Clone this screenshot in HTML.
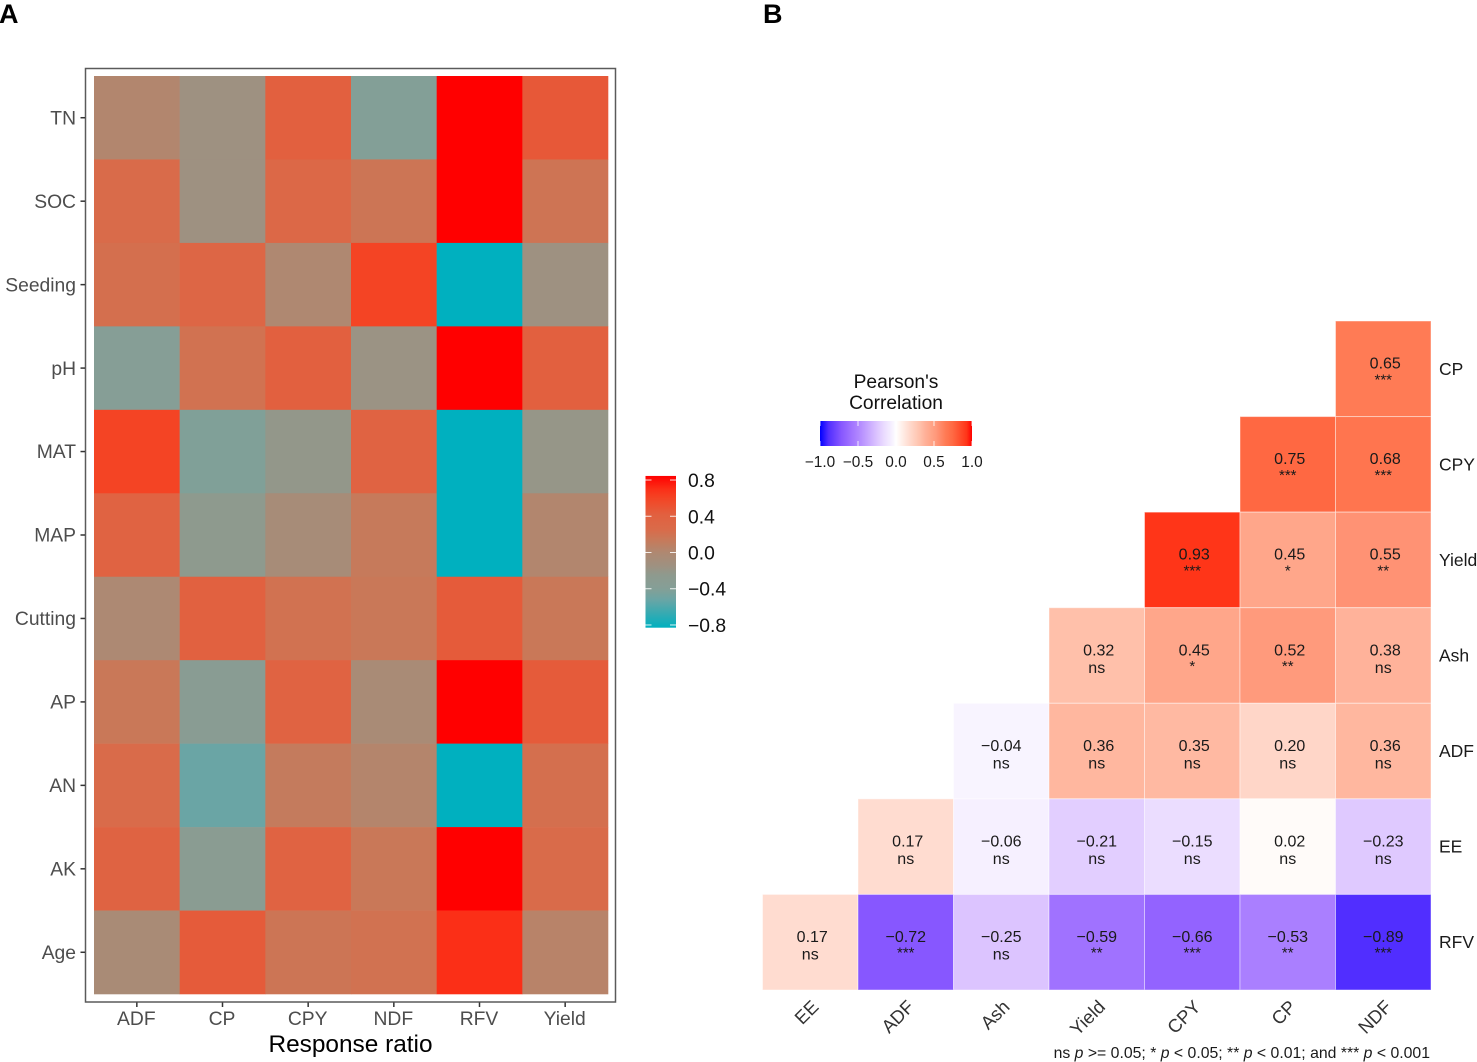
<!DOCTYPE html>
<html lang="en">
<head>
<meta charset="utf-8">
<title>Response ratio heatmap and Pearson correlation matrix</title>
<style>
  html, body { margin: 0; padding: 0; background: #fff; }
  svg { display: block; font-family: "Liberation Sans", sans-serif; }
</style>
</head>
<body>
<svg id="figure" xmlns="http://www.w3.org/2000/svg" width="1477" height="1062" viewBox="0 0 1477 1062">
  <defs id="grads"></defs>
  <rect x="0" y="0" width="1477" height="1062" fill="#ffffff"/>
  <text x="-1" y="23" font-size="27" font-weight="bold" fill="#000">A</text>
  <text x="763" y="23" font-size="27" font-weight="bold" fill="#000">B</text>
  <g id="panelA"></g>
  <g id="panelB"></g>
  <text x="1430" y="1058" text-anchor="end" font-size="15.8" fill="#1a1a1a">ns <tspan font-style="italic">p</tspan> &gt;= 0.05; * <tspan font-style="italic">p</tspan> &lt; 0.05; ** <tspan font-style="italic">p</tspan> &lt; 0.01; and *** <tspan font-style="italic">p</tspan> &lt; 0.001</text>
</svg>
<script>
// ---- Panel A data ----
const ratioCols = ["ADF", "CP", "CPY", "NDF", "RFV", "Yield"];
const ratioRows = ["TN", "SOC", "Seeding", "pH", "MAT", "MAP", "Cutting", "AP", "AN", "AK", "Age"];
const ratioTN = [0.02, -0.15, 0.42, -0.40, 0.845, 0.47];
const ratioSOC = [0.25, -0.15, 0.30, 0.17, 0.845, 0.18];
const ratioSeeding = [0.22, 0.33, 0.00, 0.60, -0.83, -0.15];
const ratioPH = [-0.38, 0.20, 0.42, -0.17, 0.845, 0.42];
const ratioMAT = [0.60, -0.42, -0.22, 0.38, -0.83, -0.20];
const ratioMAP = [0.38, -0.25, -0.07, 0.13, -0.83, 0.02];
const ratioCutting = [-0.02, 0.40, 0.20, 0.15, 0.45, 0.15];
const ratioAP = [0.15, -0.33, 0.38, -0.05, 0.845, 0.45];
const ratioAN = [0.25, -0.52, 0.12, 0.03, -0.83, 0.22];
const ratioAK = [0.37, -0.32, 0.38, 0.15, 0.845, 0.25];
const ratioAge = [-0.05, 0.45, 0.17, 0.20, 0.70, 0.05];
const ratioTicks = [0.8, 0.4, 0.0, -0.4, -0.8];

// ---- Panel B data ----
const corrCols = ["EE", "ADF", "Ash", "Yield", "CPY", "CP", "NDF"];
const corrRows = ["CP", "CPY", "Yield", "Ash", "ADF", "EE", "RFV"];
const corrCP = [null, null, null, null, null, null, 0.65];
const corrCPY = [null, null, null, null, null, 0.75, 0.68];
const corrYield = [null, null, null, null, 0.93, 0.45, 0.55];
const corrAsh = [null, null, null, 0.32, 0.45, 0.52, 0.38];
const corrADF = [null, null, -0.04, 0.36, 0.35, 0.20, 0.36];
const corrEE = [null, 0.17, -0.06, -0.21, -0.15, 0.02, -0.23];
const corrRFV = [0.17, -0.72, -0.25, -0.59, -0.66, -0.53, -0.89];
const sigCP = [null, null, null, null, null, null, "***"];
const sigCPY = [null, null, null, null, null, "***", "***"];
const sigYield = [null, null, null, null, "***", "*", "**"];
const sigAsh = [null, null, null, "ns", "*", "**", "ns"];
const sigADF = [null, null, "ns", "ns", "ns", "ns", "ns"];
const sigEE = [null, "ns", "ns", "ns", "ns", "ns", "ns"];
const sigRFV = ["ns", "***", "ns", "**", "***", "**", "***"];
const corrTicks = [-1.0, -0.5, 0.0, 0.5, 1.0];

const ratioMatrix = [ratioTN, ratioSOC, ratioSeeding, ratioPH, ratioMAT, ratioMAP, ratioCutting, ratioAP, ratioAN, ratioAK, ratioAge];
const corrMatrix = [corrCP, corrCPY, corrYield, corrAsh, corrADF, corrEE, corrRFV];
const sigMatrix = [sigCP, sigCPY, sigYield, sigAsh, sigADF, sigEE, sigRFV];

const NS = "http://www.w3.org/2000/svg";
function make(parent, tag, attrs, txt) {
  const n = document.createElementNS(NS, tag);
  for (const k in attrs) n.setAttribute(k, attrs[k]);
  if (txt !== undefined) n.textContent = txt;
  parent.appendChild(n);
  return n;
}
function minus(s) { return String(s).replace("-", "\u2212"); }
function slug(s) { return String(s).toLowerCase().replace(/[^a-z0-9]+/g, "-"); }

// colour scales (piecewise in value space)
const scaleA = [[-0.83,"#00b0bf"],[-0.52,"#6aa5a5"],[-0.42,"#80a098"],[-0.38,"#869e96"],[-0.25,"#8e9a8e"],[-0.15,"#9e9181"],[0,"#af8871"],[0.15,"#c97858"],[0.25,"#d96b4a"],[0.42,"#e2603f"],[0.6,"#f44424"],[0.7,"#fb2f17"],[0.845,"#ff0000"]];
const scaleB = [[-1,"#0000ff"],[-0.89,"#512eff"],[-0.72,"#8757ff"],[-0.59,"#a072ff"],[-0.5,"#af85ff"],[-0.25,"#dcc4ff"],[-0.15,"#ebddff"],[-0.04,"#f8f4ff"],[0,"#ffffff"],[0.17,"#ffdcd0"],[0.32,"#ffc0aa"],[0.38,"#ffb29a"],[0.45,"#ffa68a"],[0.52,"#ff9a7c"],[0.55,"#ff9274"],[0.65,"#ff7b55"],[0.75,"#ff6842"],[0.93,"#ff3518"],[1,"#ff0000"]];
function hex(c) { return [1, 3, 5].map(i => parseInt(c.substr(i, 2), 16)); }
function colorOf(scale, v) {
  if (v <= scale[0][0]) return scale[0][1];
  for (let i = 1; i < scale.length; i++) {
    if (v <= scale[i][0]) {
      const t = (v - scale[i - 1][0]) / (scale[i][0] - scale[i - 1][0]);
      const a = hex(scale[i - 1][1]), b = hex(scale[i][1]);
      return "rgb(" + a.map((x, j) => Math.round(x + (b[j] - x) * t)).join(",") + ")";
    }
  }
  return scale[scale.length - 1][1];
}

// ---- Panel A ----
const gA = document.getElementById("panelA");
const aLeft = 94, aRight = 608, aTop = 76, aBottom = 994;
function xA(i) { return aLeft + (aRight - aLeft) * i / ratioCols.length; }
function yA(j) { return aTop + (aBottom - aTop) * j / ratioRows.length; }
const aBandW = (aRight - aLeft) / ratioCols.length;
const aBandH = (aBottom - aTop) / ratioRows.length;

ratioRows.forEach((row, j) => {
  ratioCols.forEach((col, i) => {
    const cell = make(gA, "rect", { x: xA(i), y: yA(j), width: aBandW + 0.3, height: aBandH + 0.3, fill: colorOf(scaleA, ratioMatrix[j][i]) });
    
    
  });
});
const frameA = make(gA, "rect", { x: 85.5, y: 68.5, width: 530, height: 933.5, fill: "none", stroke: "#5a5a5a", "stroke-width": 1.5 });



ratioRows.forEach((row, j) => {
  const yc = yA(j) + aBandH / 2;
  const tick = make(gA, "line", { x1: 80.5, x2: 85, y1: yc, y2: yc, stroke: "#333", "stroke-width": 1.5 });
  
  
  const lab = make(gA, "text", { x: 76, y: yc + 6.7, "text-anchor": "end", "font-size": 19.3, fill: "#4d4d4d" }, row);
  
  
});
ratioCols.forEach((col, i) => {
  const xc = xA(i) + aBandW / 2;
  const tick = make(gA, "line", { x1: xc, x2: xc, y1: 1002.5, y2: 1007, stroke: "#333", "stroke-width": 1.5 });
  
  
  const lab = make(gA, "text", { x: xc - 0.5, y: 1025, "text-anchor": "middle", "font-size": 19.3, fill: "#4d4d4d" }, col);
  
  
});
const xTitle = make(gA, "text", { x: 350.5, y: 1052, "text-anchor": "middle", "font-size": 24.4, fill: "#000" }, "Response ratio");



// Panel A legend
const defs = document.getElementById("grads");
function gradient(id, scale, vertical) {
  const lo = scale[0][0], hi = scale[scale.length - 1][0];
  const g = make(defs, "linearGradient", vertical ? { id: id, x1: 0, y1: 1, x2: 0, y2: 0 } : { id: id, x1: 0, y1: 0, x2: 1, y2: 0 });
  scale.forEach(s => make(g, "stop", { offset: (s[0] - lo) / (hi - lo), "stop-color": s[1] }));
}
gradient("gradA", scaleA, true);
gradient("gradB", scaleB, false);

function yLegA(v) { return 552.5 - v * 90.6; }
const barA = make(gA, "rect", { x: 645.5, y: yLegA(0.845), width: 30.5, height: yLegA(-0.83) - yLegA(0.845), fill: "url(#gradA)" });


ratioTicks.forEach(v => {
  const y = yLegA(v);
  const t1 = make(gA, "line", { x1: 645.5, x2: 651.5, y1: y, y2: y, stroke: "#fff", "stroke-width": 1, "stroke-opacity": 0.85 });
  
  
  const t2 = make(gA, "line", { x1: 670, x2: 676, y1: y, y2: y, stroke: "#fff", "stroke-width": 1, "stroke-opacity": 0.85 });
  
  
  const lab = make(gA, "text", { x: 688, y: y + 7, "font-size": 19.3, fill: "#111" }, minus(v.toFixed(1)));
  
  
});

// ---- Panel B ----
const gB = document.getElementById("panelB");
const bLeft = 762.5, bRight = 1431, bTop = 321, bBottom = 990;
const bBandW = (bRight - bLeft) / corrCols.length;
const bBandH = (bBottom - bTop) / corrRows.length;
function xB(i) { return bLeft + bBandW * i; }
function yB(j) { return bTop + bBandH * j; }

corrRows.forEach((row, j) => {
  corrCols.forEach((col, i) => {
    const v = corrMatrix[j][i];
    if (v === null) return;
    const cell = make(gB, "rect", { x: xB(i), y: yB(j), width: bBandW, height: bBandH, fill: colorOf(scaleB, v), stroke: "#fff", "stroke-width": 1, "stroke-opacity": 0.45 });
    
    
    const xc = xB(i) + bBandW / 2;
    const val = make(gB, "text", { x: v >= 0 ? xc + 2 : xc, y: yB(j) + 47.6, "text-anchor": "middle", "font-size": 16, fill: "#1a1a1a" }, minus(v.toFixed(2)));
    
    
    const sig = sigMatrix[j][i];
    const sigText = make(gB, "text", { x: xc, y: yB(j) + (sig === "ns" ? 65.3 : 63.3), "text-anchor": "middle", "font-size": sig === "ns" ? 16 : 15, fill: "#1a1a1a" }, sig);
    
    
  });
});
corrRows.forEach((row, j) => {
  const lab = make(gB, "text", { x: 1439, y: yB(j) + bBandH / 2 + 6, "font-size": 17.5, fill: "#1a1a1a" }, row);
  
  
});
corrCols.forEach((col, i) => {
  const px = xB(i) + bBandW / 2 + 9.5, py = 1008;
  const lab = make(gB, "text", { x: 0, y: 0, "text-anchor": "end", "font-size": 18.5, fill: "#333", transform: "translate(" + px + " " + py + ") rotate(-45)" }, col);
  
  
});

const legTitle1 = make(gB, "text", { x: 896, y: 388, "text-anchor": "middle", "font-size": 19.2, fill: "#111" }, "Pearson's");


const legTitle2 = make(gB, "text", { x: 896, y: 409, "text-anchor": "middle", "font-size": 19.2, fill: "#111" }, "Correlation");



function xLegB(v) { return 896 + v * 76; }
const barB = make(gB, "rect", { x: xLegB(-1), y: 421, width: xLegB(1) - xLegB(-1), height: 25, fill: "url(#gradB)" });


corrTicks.forEach(v => {
  const x = xLegB(v);
  const t1 = make(gB, "line", { x1: x, x2: x, y1: 421, y2: 426, stroke: "#fff", "stroke-width": 1, "stroke-opacity": 0.8 });
  
  
  const t2 = make(gB, "line", { x1: x, x2: x, y1: 441, y2: 446, stroke: "#fff", "stroke-width": 1, "stroke-opacity": 0.8 });
  
  
  const lab = make(gB, "text", { x: x, y: 467.2, "text-anchor": "middle", "font-size": 15.4, fill: "#1a1a1a" }, minus(v.toFixed(1)));
  
  
});
</script>
</body>
</html>
